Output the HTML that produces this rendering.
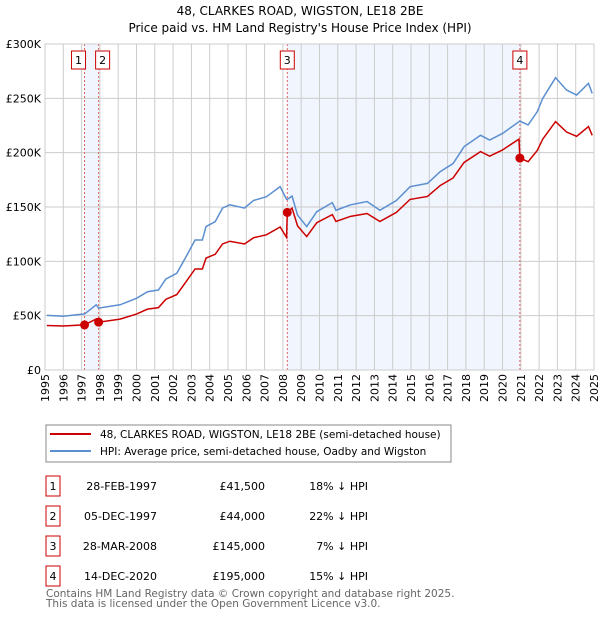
<!DOCTYPE html>
<html><head><meta charset="utf-8"><style>
body{margin:0;background:#fff;font-family:"Liberation Sans","DejaVu Sans",sans-serif;}
svg text{font-family:"DejaVu Sans","Liberation Sans",sans-serif;}
</style></head><body>
<svg id="c" width="600" height="620" xmlns="http://www.w3.org/2000/svg">
<text x="300" y="15" text-anchor="middle" font-size="12">48, CLARKES ROAD, WIGSTON, LE18 2BE</text>
<text x="300" y="32" text-anchor="middle" font-size="12">Price paid vs. HM Land Registry's House Price Index (HPI)</text>
<g id="plot"></g>
<rect x="46" y="425" width="405" height="37" fill="#fff" stroke="#888"/>
<line x1="50" y1="434" x2="91" y2="434" stroke="#cc0000" stroke-width="2"/>
<text x="100" y="438" font-size="10.5">48, CLARKES ROAD, WIGSTON, LE18 2BE (semi-detached house)</text>
<line x1="50" y1="451" x2="91" y2="451" stroke="#5b8fd0" stroke-width="2"/>
<text x="100" y="455" font-size="10.5">HPI: Average price, semi-detached house, Oadby and Wigston</text>
<g id="tbl"></g>
<text x="46" y="597" font-size="10.5" fill="#666">Contains HM Land Registry data © Crown copyright and database right 2025.</text>
<text x="46" y="607" font-size="10.5" fill="#666">This data is licensed under the Open Government Licence v3.0.</text>
</svg>
<script>
const dates=[1995.1,1996.0,1997.1,1997.16,1997.8,1997.93,1999.1,2000.0,2000.6,2001.2,2001.6,2002.2,2002.7,2003.2,2003.6,2003.8,2004.3,2004.7,2005.1,2005.9,2006.4,2007.1,2007.85,2008.2,2008.24,2008.5,2008.8,2009.3,2009.85,2010.7,2010.9,2011.7,2012.6,2013.3,2014.2,2014.95,2015.9,2016.6,2017.3,2017.9,2018.8,2019.3,2020.0,2020.9,2020.95,2021.4,2021.9,2022.2,2022.9,2023.5,2024.05,2024.7,2024.9];
const hpi=[50.3,49.5,51.5,51.5,60,57,60,66,72,73.6,83.7,89,104,119.6,119.6,132,136.5,149,152,149,156,159.5,168.7,157,157,160,142.6,132,145.7,154,147,152,155,147,156,168.7,171.7,182.6,190,205.5,216,211.6,217.7,228.5,229,225.5,237.7,250,269,257.6,253,263.8,254.6];
const price=[41,40.5,41.5,41.5,47,44,46.8,51.5,56,57.4,65,69.4,81,93,93,103,106.5,116,118.5,116,121.7,124.4,131.6,122,145,149,132.6,122.8,135.5,143,136.7,141.4,144,136.7,145,157,159.7,169.8,176.7,191,201,196.8,202.5,212.5,195,191.7,202,212.5,228.6,219,215,224,216];
const saleDates=[1997.16,1997.93,2008.24,2020.95];
const salePrices=[41.5,44,145,195];
const saleLabels=["1","2","3","4"];
const saleDateText=["28-FEB-1997","05-DEC-1997","28-MAR-2008","14-DEC-2020"];
const salePriceText=["£41,500","£44,000","£145,000","£195,000"];
const salePctText=["18% ↓ HPI","22% ↓ HPI","7% ↓ HPI","15% ↓ HPI"];
const yTicks=[0,50,100,150,200,250,300];
const yTickLabels=["£0","£50K","£100K","£150K","£200K","£250K","£300K"];
const years=[1995,1996,1997,1998,1999,2000,2001,2002,2003,2004,2005,2006,2007,2008,2009,2010,2011,2012,2013,2014,2015,2016,2017,2018,2019,2020,2021,2022,2023,2024,2025];

const NS="http://www.w3.org/2000/svg";
const L=45,R=594,T=44,B=370;
const X=v=>L+(v-1995)/30*(R-L);
const Y=v=>B-v/300*(B-T);
const plot=document.getElementById('plot');
function mk(tag,at,parent){const e=document.createElementNS(NS,tag);for(const k in at)e.setAttribute(k,at[k]);(parent||plot).appendChild(e);return e;}

let bg=mk('rect',{x:L,y:T,width:R-L,height:B-T,fill:'#fff'});


[[0,1],[2,3]].forEach(p=>{
 const s=mk('rect',{x:X(saleDates[p[0]]),y:T,width:X(saleDates[p[1]])-X(saleDates[p[0]]),height:B-T,fill:'#eef3fc',opacity:0.8});
 
 
});
years.forEach(yr=>{
 const g=mk('line',{x1:X(yr),x2:X(yr),y1:T,y2:B,stroke:'#cccccc','stroke-width':1});
 
 
 const t=mk('text',{x:0,y:0,'font-size':11,'text-anchor':'end',transform:`translate(${X(yr)+4},374) rotate(-90)`});
 t.textContent=yr;
 
 
});
yTicks.forEach((v,i)=>{
 const g=mk('line',{x1:L,x2:R,y1:Y(v),y2:Y(v),stroke:'#cccccc','stroke-width':1});
 
 
 const t=mk('text',{x:L-4,y:Y(v)+4,'font-size':11,'text-anchor':'end'});
 t.textContent=yTickLabels[i];
 
 
});
saleDates.forEach((d,i)=>{
 const l=mk('line',{x1:X(d),x2:X(d),y1:T,y2:B,stroke:'#e06060','stroke-width':1,'stroke-dasharray':'2,2'});
 
 
});
const hp=mk('polyline',{points:dates.map((d,i)=>X(d)+','+Y(hpi[i])).join(' '),fill:'none',stroke:'#5b8fd0','stroke-width':1.5});


const pp=mk('polyline',{points:dates.map((d,i)=>X(d)+','+Y(price[i])).join(' '),fill:'none',stroke:'#cc0000','stroke-width':1.5});


saleDates.forEach((d,i)=>{
 const c=mk('circle',{cx:X(d),cy:Y(salePrices[i]),r:4.5,fill:'#cc0000'});
 
 
 let bx=X(d)-7; if(i==0)bx=X(d)-13; if(i==1)bx=X(d)-3;
 const r=mk('rect',{x:bx,y:51,width:14,height:18,fill:'#fff',stroke:'#cc0000'});
 
 
 const t=mk('text',{x:bx+7,y:64,'font-size':11,'text-anchor':'middle'});
 t.textContent=saleLabels[i];
 
 
});
const fr=mk('rect',{x:L,y:T,width:R-L,height:B-T,fill:'none',stroke:'#cccccc'});



const tbl=document.getElementById('tbl');
saleDates.forEach((d,i)=>{
 const y=486+i*30;
 const r=mk('rect',{x:46,y:y-10,width:14,height:20,fill:'#fff',stroke:'#cc0000'},tbl);
 
 
 const a=mk('text',{x:53,y:y+4,'font-size':11,'text-anchor':'middle'},tbl);a.textContent=saleLabels[i];
 
 
 const b=mk('text',{x:157,y:y+4,'font-size':11,'text-anchor':'end'},tbl);b.textContent=saleDateText[i];
 
 
 const c=mk('text',{x:265,y:y+4,'font-size':11,'text-anchor':'end'},tbl);c.textContent=salePriceText[i];
 
 
 const e=mk('text',{x:368,y:y+4,'font-size':11,'text-anchor':'end'},tbl);e.textContent=salePctText[i];
 
 
});
</script>
</body></html>
